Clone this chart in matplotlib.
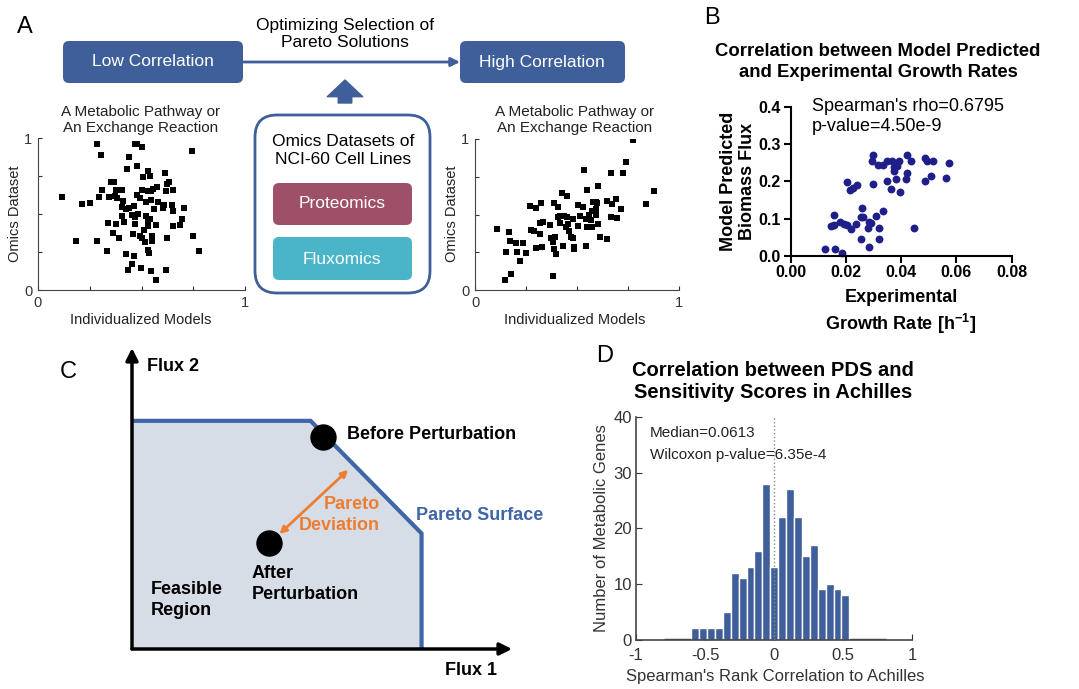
import numpy as np
import matplotlib.pyplot as plt
from matplotlib.patches import FancyBboxPatch

plt.rcParams['font.family'] = ['Liberation Sans', 'DejaVu Sans']
plt.rcParams['mathtext.fontset'] = 'custom'
plt.rcParams['mathtext.rm'] = 'Liberation Sans'
plt.rcParams['mathtext.bf'] = 'Liberation Sans:bold'

# ---- data ----
# A: toy scatter, low correlation
low_x = [0.287, 0.302, 0.468, 0.479, 0.500, 0.440, 0.742, 0.431, 0.476, 0.529,
         0.540, 0.508, 0.613, 0.355, 0.368, 0.632, 0.621, 0.310, 0.379, 0.406,
         0.503, 0.532, 0.548, 0.556, 0.577, 0.653, 0.616, 0.295, 0.344, 0.371,
         0.382, 0.476, 0.492, 0.524, 0.545, 0.581, 0.118, 0.213, 0.252, 0.411,
         0.406, 0.427, 0.440, 0.465, 0.605, 0.610, 0.645, 0.651, 0.706, 0.561,
         0.406, 0.455, 0.471, 0.482, 0.524, 0.540, 0.698, 0.529, 0.416, 0.339,
         0.377, 0.471, 0.571, 0.532, 0.511, 0.651, 0.685, 0.363, 0.460, 0.492,
         0.500, 0.553, 0.624, 0.390, 0.750, 0.185, 0.287, 0.519, 0.553, 0.331,
         0.776, 0.529, 0.537, 0.423, 0.465, 0.456, 0.435, 0.498, 0.548, 0.616,
         0.569]
low_y = [0.960, 0.886, 0.960, 0.960, 0.938, 0.873, 0.916, 0.798, 0.818, 0.785,
         0.747, 0.741, 0.767, 0.710, 0.710, 0.708, 0.697, 0.657, 0.657, 0.657,
         0.657, 0.653, 0.653, 0.664, 0.679, 0.657, 0.653, 0.615, 0.609, 0.618,
         0.604, 0.622, 0.604, 0.578, 0.593, 0.578, 0.609, 0.569, 0.571, 0.587,
         0.545, 0.534, 0.538, 0.554, 0.538, 0.556, 0.560, 0.519, 0.538, 0.534,
         0.488, 0.492, 0.477, 0.497, 0.486, 0.468, 0.464, 0.455, 0.446, 0.440,
         0.431, 0.433, 0.429, 0.418, 0.396, 0.422, 0.429, 0.378, 0.369, 0.356,
         0.345, 0.356, 0.345, 0.341, 0.352, 0.323, 0.323, 0.316, 0.325, 0.257,
         0.255, 0.262, 0.244, 0.235, 0.226, 0.174, 0.134, 0.143, 0.125, 0.132,
         0.066]

# A: toy scatter, high correlation
high_x = [0.775, 0.742, 0.533, 0.666, 0.726, 0.605, 0.878, 0.547, 0.427, 0.449,
          0.323, 0.272, 0.297, 0.387, 0.408, 0.506, 0.527, 0.576, 0.591, 0.600,
          0.648, 0.670, 0.690, 0.837, 0.716, 0.573, 0.592, 0.561, 0.595, 0.514,
          0.416, 0.436, 0.406, 0.449, 0.481, 0.667, 0.698, 0.542, 0.334, 0.318,
          0.367, 0.416, 0.457, 0.571, 0.548, 0.604, 0.573, 0.504, 0.274, 0.289,
          0.318, 0.444, 0.460, 0.106, 0.166, 0.615, 0.648, 0.473, 0.481, 0.392,
          0.374, 0.380, 0.171, 0.199, 0.237, 0.297, 0.326, 0.388, 0.432, 0.484,
          0.484, 0.542, 0.207, 0.150, 0.248, 0.395, 0.223, 0.175, 0.147, 0.383]
high_y = [0.993, 0.850, 0.792, 0.777, 0.775, 0.691, 0.658, 0.662, 0.640, 0.623,
          0.578, 0.556, 0.543, 0.574, 0.547, 0.565, 0.547, 0.583, 0.583, 0.574,
          0.589, 0.567, 0.603, 0.567, 0.534, 0.525, 0.534, 0.497, 0.497, 0.490,
          0.490, 0.488, 0.486, 0.486, 0.472, 0.486, 0.477, 0.472, 0.453, 0.442,
          0.433, 0.446, 0.437, 0.464, 0.415, 0.435, 0.415, 0.424, 0.397, 0.393,
          0.371, 0.415, 0.389, 0.402, 0.384, 0.353, 0.340, 0.353, 0.347, 0.353,
          0.347, 0.316, 0.327, 0.309, 0.309, 0.278, 0.287, 0.269, 0.291, 0.287,
          0.272, 0.294, 0.249, 0.254, 0.243, 0.238, 0.194, 0.106, 0.066, 0.095]

# B: experimental growth rate vs predicted biomass flux
growth = [0.0124, 0.0162, 0.0185, 0.0157, 0.0147, 0.0158, 0.0179, 0.0193, 0.0203, 0.0217,
          0.0235, 0.0258, 0.0256, 0.0263, 0.0284, 0.0281, 0.0290, 0.0309, 0.0335, 0.0320,
          0.0321, 0.0256, 0.0284, 0.0446, 0.0203, 0.0215, 0.0224, 0.0239, 0.0297, 0.0299,
          0.0296, 0.0317, 0.0333, 0.0350, 0.0366, 0.0348, 0.0364, 0.0373, 0.0384, 0.0391,
          0.0381, 0.0396, 0.0374, 0.0421, 0.0434, 0.0420, 0.0417, 0.0486, 0.0492, 0.0514,
          0.0487, 0.0509, 0.0562, 0.0574]
biomass = [0.019, 0.017, 0.006, 0.110, 0.080, 0.082, 0.092, 0.086, 0.082, 0.071,
           0.085, 0.129, 0.105, 0.105, 0.092, 0.076, 0.089, 0.108, 0.120, 0.075,
           0.044, 0.044, 0.024, 0.076, 0.199, 0.177, 0.182, 0.191, 0.193, 0.271,
           0.256, 0.245, 0.244, 0.256, 0.254, 0.200, 0.180, 0.240, 0.243, 0.254,
           0.206, 0.173, 0.228, 0.271, 0.254, 0.222, 0.206, 0.262, 0.256, 0.256,
           0.200, 0.216, 0.210, 0.251]

# C: schematic Pareto front (flux units)
front_x = [0, 4.70, 7.62, 7.62]
front_y = [7.58, 7.58, 3.84, 0]
before_pt = (5.02, 7.05)
after_pt = (3.61, 3.51)

# D: histogram of correlations
hist_counts = [2, 2, 2, 2, 5, 12, 11, 13, 16, 28, 13, 22, 27, 22, 15, 17, 9, 10, 9, 8]
hist_start = -0.6
hist_width = 0.0573

BLUE = '#3E5F9A'
W, H = 1079, 689
fig = plt.figure(figsize=(W / 100, H / 100), dpi=100)


def px_axes(x0, y0, x1, y1):
    return fig.add_axes([x0 / W, 1 - y1 / H, (x1 - x0) / W, (y1 - y0) / H])


ax0 = px_axes(0, 0, W, H)
ax0.set_xlim(0, W)
ax0.set_ylim(H, 0)
ax0.axis('off')


def rbox(x0, y0, x1, y1, fc, ec='none', lw=0, r=6):
    ax0.add_patch(FancyBboxPatch((x0, y0), x1 - x0, y1 - y0,
                                 boxstyle=f"round,pad=0,rounding_size={r}",
                                 fc=fc, ec=ec, lw=lw))


# panel letters
for lab, (x, y) in {'A': (25, 27), 'B': (712, 18), 'C': (68, 372), 'D': (605, 356)}.items():
    ax0.text(x, y, lab, fontsize=17, ha='center', va='center')

# ---- A: flowchart ----
rbox(63, 41, 243, 83, BLUE)
ax0.text(153, 62, 'Low Correlation', color='white', fontsize=12.5, ha='center', va='center')
rbox(460, 41, 625, 83, BLUE)
ax0.text(542, 62, 'High Correlation', color='white', fontsize=12.5, ha='center', va='center')
ax0.annotate('', xy=(460, 62), xytext=(243, 62),
             arrowprops=dict(arrowstyle='-|>', color=BLUE, lw=2, mutation_scale=13,
                             shrinkA=0, shrinkB=0))
ax0.text(345, 34, 'Optimizing Selection of\nPareto Solutions', fontsize=12.5,
         ha='center', va='center', linespacing=1.2)
ax0.annotate('', xy=(345, 80), xytext=(345, 103),
             arrowprops=dict(arrowstyle='simple,head_width=1.7,head_length=0.8,tail_width=0.65',
                             color=BLUE, mutation_scale=15, shrinkA=0, shrinkB=0))
rbox(255, 115, 430, 293, 'white', ec=BLUE, lw=2, r=22)
ax0.text(343, 150, 'Omics Datasets of\nNCI-60 Cell Lines', fontsize=12.5,
         ha='center', va='center', linespacing=1.25)
rbox(273, 183, 412, 225, '#9E5068')
ax0.text(342, 204, 'Proteomics', color='white', fontsize=12.5, ha='center', va='center')
rbox(273, 237, 412, 280, '#4AB5C8')
ax0.text(342, 259, 'Fluxomics', color='white', fontsize=12.5, ha='center', va='center')

# ---- A: toy scatters ----
for (xs, ys, box, tx) in [(low_x, low_y, (38, 138, 245, 290), 141),
                           (high_x, high_y, (475, 139, 679, 290), 575)]:
    ax = px_axes(*box)
    ax.scatter(xs, ys, marker='s', s=14, color='black', linewidths=0)
    ax.set_xlim(0, 1)
    ax.set_ylim(0, 1)
    ax.set_xticks([0, 0.25, 0.5, 0.75, 1], ['0', '', '', '', '1'])
    ax.set_yticks([0, 0.25, 0.5, 0.75, 1], ['0', '', '', '', '1'])
    ax.tick_params(direction='in', length=3, labelsize=10.5, colors='#333', pad=4)
    for s in ['top', 'right']:
        ax.spines[s].set_visible(False)
    for s in ['left', 'bottom']:
        ax.spines[s].set_color('#444')
    ax0.text(tx, 120, 'A Metabolic Pathway or\nAn Exchange Reaction', fontsize=11,
             ha='center', va='center', color='#222', linespacing=1.25)
    ax0.text(tx, 320, 'Individualized Models', fontsize=10.5, ha='center', va='center', color='#222')
    ax0.text(box[0] - 23, 214, 'Omics Dataset', fontsize=10.5, rotation=90,
             ha='center', va='center', color='#222')

# ---- B ----
axB = px_axes(790.7, 107.3, 1011.7, 255.7)
axB.scatter(growth, biomass, s=32, color='#1F1F8A', linewidths=0, clip_on=False)
axB.set_xlim(0, 0.08)
axB.set_ylim(0, 0.4)
axB.set_xticks([0, 0.02, 0.04, 0.06, 0.08], ['0.00', '0.02', '0.04', '0.06', '0.08'])
axB.set_yticks([0, 0.1, 0.2, 0.3, 0.4], ['0.0', '0.1', '0.2', '0.3', '0.4'])
axB.tick_params(direction='out', length=5, width=1.5, labelsize=11.5, pad=2)
for lbl in axB.get_xticklabels() + axB.get_yticklabels():
    lbl.set_fontweight('bold')
for s in ['top', 'right']:
    axB.spines[s].set_visible(False)
for s in ['left', 'bottom']:
    axB.spines[s].set_linewidth(1.5)
axB.text(0.0076, 0.401, "Spearman's rho=0.6795", fontsize=13, va='center')
axB.text(0.0076, 0.348, 'p-value=4.50e-9', fontsize=13, va='center')
ax0.text(878, 62, 'Correlation between Model Predicted\nand Experimental Growth Rates',
         fontsize=13.3, fontweight='bold', ha='center', va='center', linespacing=1.3)
ax0.text(738, 181, 'Model Predicted\nBiomass Flux', fontsize=13, fontweight='bold',
         rotation=90, ha='center', va='center', linespacing=1.15)
ax0.text(901, 298, 'Experimental', fontsize=13, fontweight='bold', ha='center', va='center')
ax0.text(901, 324, r'Growth Rate [h$^{\mathbf{-1}}$]', fontsize=13, fontweight='bold',
         ha='center', va='center')

# ---- C: schematic ----
axC = px_axes(132, 348, 512, 649)
axC.set_xlim(0, 10)
axC.set_ylim(0, 10)
axC.axis('off')
axC.fill([0] + front_x, [0] + front_y, color='#D6DDE7', lw=0)
axC.plot(front_x, front_y, color='#4066A8', lw=3, solid_joinstyle='miter')
for xy in [(0, 10), (10, 0)]:
    axC.annotate('', xy=xy, xytext=(0, 0),
                 arrowprops=dict(arrowstyle='-|>', color='black', lw=2.5, mutation_scale=18,
                                 shrinkA=0, shrinkB=0))
axC.plot(*before_pt, 'o', ms=18, color='black', clip_on=False)
axC.plot(*after_pt, 'o', ms=18, color='black', clip_on=False)
axC.annotate('', xy=(3.88, 3.82), xytext=(5.69, 5.95),
             arrowprops=dict(arrowstyle='<|-|>', color='#ED7D31', lw=2, mutation_scale=10,
                             shrinkA=0, shrinkB=0))
bold = dict(fontsize=13, fontweight='bold', clip_on=False)
axC.text(0.39, 9.39, 'Flux 2', va='center', **bold)
axC.text(8.24, -0.70, 'Flux 1', va='center', **bold)
axC.text(5.65, 7.13, 'Before Perturbation', va='center', **bold)
axC.text(6.53, 4.45, 'Pareto\nDeviation', ha='right', va='center', color='#ED7D31',
         linespacing=1.3, **bold)
axC.text(7.47, 4.45, 'Pareto Surface', va='center', color='#4066A8', **bold)
axC.text(3.15, 2.16, 'After\nPerturbation', va='center', linespacing=1.3, **bold)
axC.text(0.49, 1.64, 'Feasible\nRegion', va='center', linespacing=1.3, **bold)

# ---- D ----
axD = px_axes(636, 417, 912, 639.5)
lefts = [hist_start + i * hist_width for i in range(len(hist_counts))]
axD.hlines(0, -0.8, 0.81, color='#555', lw=2.5, zorder=1)
axD.bar(lefts, hist_counts, width=hist_width, align='edge', color=BLUE,
        edgecolor='white', linewidth=1, zorder=2)
axD.axvline(0, ls=':', color='#888', lw=1, zorder=3)
axD.set_xlim(-1, 1)
axD.set_ylim(0, 40)
axD.set_xticks([-1, -0.5, 0, 0.5, 1], ['-1', '-0.5', '0', '0.5', '1'])
axD.set_yticks([0, 10, 20, 30, 40])
axD.tick_params(direction='in', length=4, labelsize=12, colors='#333')
axD.tick_params(axis='x', pad=6)
axD.tick_params(axis='y', pad=3)
for s in ['top', 'right']:
    axD.spines[s].set_visible(False)
for s in ['left', 'bottom']:
    axD.spines[s].set_color('#444')
    axD.spines[s].set_linewidth(1.2)
axD.text(-0.9, 37.1, 'Median=0.0613', fontsize=11, va='center', color='#222')
axD.text(-0.9, 33.2, 'Wilcoxon p-value=6.35e-4', fontsize=11, va='center', color='#222')
ax0.text(773, 382, 'Correlation between PDS and\nSensitivity Scores in Achilles',
         fontsize=14.5, fontweight='bold', ha='center', va='center', linespacing=1.2)
ax0.text(602, 528, 'Number of Metabolic Genes', fontsize=12, rotation=90,
         ha='center', va='center', color='#333')
ax0.text(775, 677, "Spearman's Rank Correlation to Achilles", fontsize=12,
         ha='center', va='center', color='#333')

fig.savefig('out.png', dpi=100)
